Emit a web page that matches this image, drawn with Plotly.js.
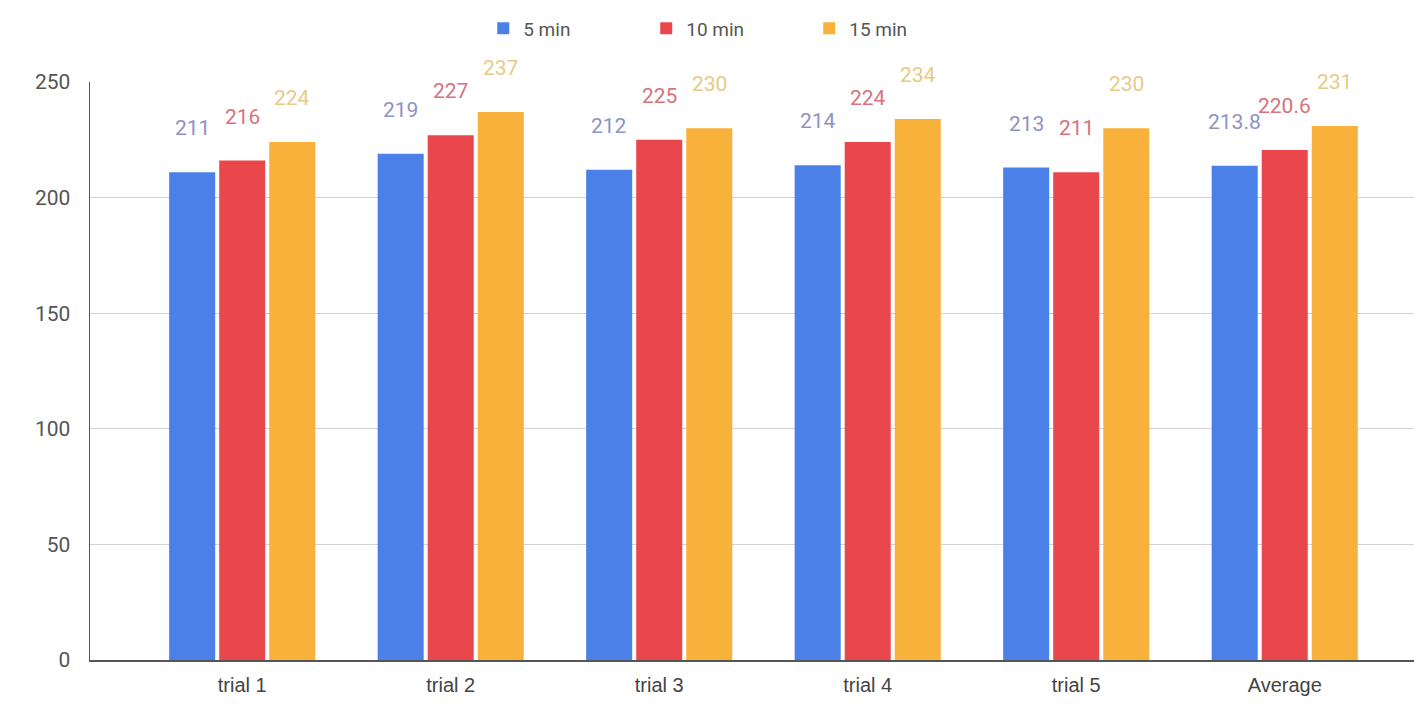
<!DOCTYPE html>
<html>
<head>
<meta charset="utf-8">
<script src="https://cdn.plot.ly/plotly-3.0.1.min.js"></script>
<style>
  html, body { margin: 0; padding: 0; background: #ffffff; }
  #chart { width: 1414px; height: 710px; }
</style>
</head>
<body>
<div id="chart"></div>
<script>
// Trials and the measured values for each interval
const categories = ["trial 1", "trial 2", "trial 3", "trial 4", "trial 5", "Average"];
const min5  = [211, 219, 212, 214, 213, 213.8];
const min10 = [216, 227, 225, 224, 211, 220.6];
const min15 = [224, 237, 230, 234, 230, 231];
const seriesNames = ["5 min", "10 min", "15 min"];
const yTicks = [0, 50, 100, 150, 200, 250];

const barColors = ["#4a80e8", "#e9474b", "#f8b23c"];
const labelColors = ["#8c93c4", "#d8727c", "#e6cb84"];
const allSeries = [min5, min10, min15];

const data = allSeries.map((values, i) => ({
  type: "bar",
  name: seriesNames[i],
  x: categories,
  y: values,
  marker: { color: barColors[i], line: { width: 0 } },
  hoverinfo: "x+y+name"
}));

// Value labels sit on short stems above each bar, shifted to their bar in the group
const barSlot = 50;
const annotations = [];
allSeries.forEach((values, i) => {
  values.forEach((v, j) => {
    annotations.push({
      x: categories[j],
      y: v,
      xref: "x",
      yref: "y",
      text: String(v),
      showarrow: false,
      xanchor: "center",
      yanchor: "bottom",
      xshift: (i - 1) * barSlot,
      yshift: 30,
      font: { family: "Roboto, Arial, sans-serif", size: 21, color: labelColors[i] }
    });
  });
});

const layout = {
  width: 1414,
  height: 710,
  paper_bgcolor: "#ffffff",
  plot_bgcolor: "#ffffff",
  margin: { l: 90, r: 0, t: 82, b: 50 },
  barmode: "group",
  bargap: 0.28,
  bargroupgap: 0.08,
  font: { family: "Roboto, Arial, sans-serif", color: "#555555" },
  showlegend: true,
  legend: {
    orientation: "h",
    x: 0.297, xanchor: "left",
    y: 1.06, yanchor: "bottom",
    font: { size: 19, color: "#555555" },
    entrywidth: 118,
    entrywidthmode: "pixels",
    itemwidth: 30
  },
  annotations: annotations,
  xaxis: {
    range: [-0.73, 5.62],
    tickfont: { family: "Liberation Sans, Arial, sans-serif", size: 20, color: "#444444" },
    showline: true,
    linecolor: "#555555",
    linewidth: 1.5,
    ticks: "",
    showgrid: false,
    ticklabelstandoff: 6
  },
  yaxis: {
    range: [0, 250],
    tickvals: yTicks,
    ticktext: yTicks.map(String),
    tickfont: { size: 21, color: "#555555" },
    gridcolor: "#d2d2d2",
    showline: true,
    linecolor: "#555555",
    linewidth: 1.5,
    zeroline: false,
    ticks: "",
    ticklabelstandoff: 14
  }
};

Plotly.newPlot("chart", data, layout, { displayModeBar: false, staticPlot: true });
</script>
</body>
</html>
